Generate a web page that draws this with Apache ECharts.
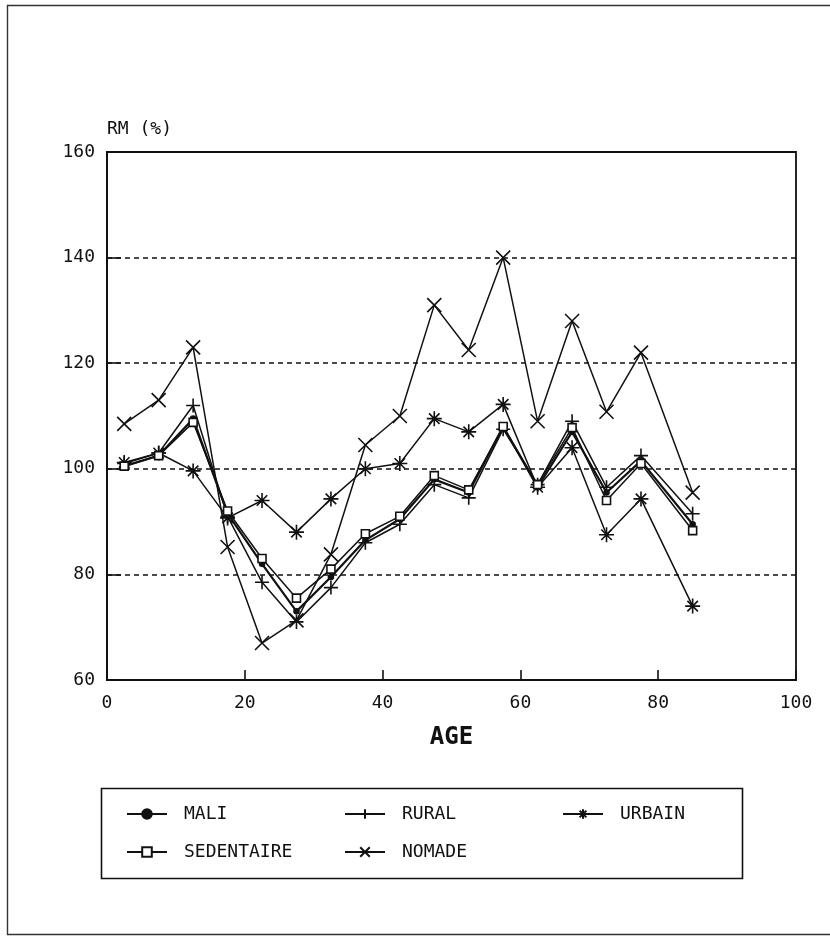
<!DOCTYPE html>
<html>
<head>
<meta charset="utf-8">
<script src="https://cdn.jsdelivr.net/npm/echarts@6/dist/echarts.min.js"></script>
<style>
  html, body { margin: 0; padding: 0; background: #fff; }
  #main { width: 830px; height: 936px; }
</style>
</head>
<body>
<div id="main"></div>
<script>
// age groups (centre of the 5-year classes, last one 85+)
var ages = [2.5, 7.5, 12.5, 17.5, 22.5, 27.5, 32.5, 37.5, 42.5, 47.5, 52.5, 57.5, 62.5, 67.5, 72.5, 77.5, 85];

// RM (%) per population group
var mali       = [100.5, 102.5, 109.5, 91.5, 82, 73, 79.5, 86.5, 90.5, 98, 95.5, 108, 96.5, 107, 95.5, 101.5, 89.5];
var rural      = [101, 103, 112, 91, 78.5, 71, 77.5, 86, 89.5, 97, 94.5, 107.5, 97, 109, 96.5, 102.5, 91.5];
var urbain     = [101.2, 103, 99.6, 90.7, 94, 88, 94.3, 100, 101, 109.5, 107, 112.2, 96.5, 104, 87.5, 94.3, 74];
var sedentaire = [100.5, 102.5, 108.8, 92, 83, 75.5, 81, 87.7, 91, 98.7, 96, 108, 97, 107.8, 94, 101, 88.3];
var nomade     = [108.5, 113, 123, 85.2, 67, 71.3, 83.8, 104.5, 110, 131, 122.5, 140, 109, 128, 110.8, 122, 95.5];

var names = ['MALI', 'RURAL', 'URBAIN', 'SEDENTAIRE', 'NOMADE'];

var FONT = '"DejaVu Sans Mono", monospace';
var INK = '#111';

// marqueurs dessinés au trait
var SYM_PLUS = 'path://M5,0L5,10M0,5L10,5';
var SYM_X = 'path://M0,0L10,10M10,0L0,10';
var SYM_STAR = 'path://M5,0L5,10M0,5L10,5M1.5,1.5L8.5,8.5M8.5,1.5L1.5,8.5';

function pairs(values) {
    var out = [];
    for (var i = 0; i < ages.length; i++) {
        out.push([ages[i], values[i]]);
    }
    return out;
}

function makeSeries(name, values, symbol, size, width, fill) {
    return {
        name: name,
        type: 'line',
        data: pairs(values),
        symbol: symbol,
        symbolSize: size,
        showAllSymbol: true,
        lineStyle: { color: INK, width: width },
        itemStyle: {
            color: fill,
            borderColor: INK,
            borderWidth: 1.6
        },
        emphasis: { disabled: true },
        z: 3
    };
}

var myChart = echarts.init(document.getElementById('main'));
var option = {
    backgroundColor: '#fff',
    animation: false,
    grid: {
        left: 107,
        right: 34,
        top: 152,
        bottom: 256,
        show: true,
        borderColor: INK,
        borderWidth: 1.8
    },
    xAxis: {
        type: 'value',
        min: 0,
        max: 100,
        interval: 20,
        name: 'AGE',
        nameLocation: 'middle',
        nameGap: 46,
        nameTextStyle: { fontFamily: FONT, fontSize: 24, fontWeight: 'bold', color: INK },
        axisLine: { lineStyle: { color: INK, width: 2 } },
        axisTick: { inside: true, length: 10, lineStyle: { color: INK, width: 1.6 } },
        axisLabel: { fontFamily: FONT, fontSize: 18, color: INK, margin: 14 },
        splitLine: { show: false }
    },
    yAxis: {
        type: 'value',
        min: 60,
        max: 160,
        interval: 20,
        name: 'RM (%)',
        nameLocation: 'end',
        nameGap: 14,
        nameTextStyle: { fontFamily: FONT, fontSize: 18, color: INK, align: 'left' },
        axisLine: { lineStyle: { color: INK, width: 2 } },
        axisTick: { inside: true, length: 14, lineStyle: { color: INK, width: 1.6 } },
        axisLabel: { fontFamily: FONT, fontSize: 18, color: INK, margin: 12, padding: [0, 0, 8, 0] },
        splitLine: { show: true, lineStyle: { color: INK, width: 1.6, type: [5, 4] } }
    },
    legend: {
        data: names,
        left: 126,
        top: 805,
        width: 700,
        orient: 'horizontal',
        itemWidth: 40,
        itemHeight: 12,
        itemGap: 20,
        padding: 0,
        textStyle: {
            fontFamily: FONT,
            fontSize: 18,
            color: INK,
            width: 140,
            lineHeight: 14,
            padding: [0, 0, 0, 12]
        },
        selectedMode: false
    },
    graphic: [
        {
            // cadre de la légende
            type: 'rect',
            left: 99,
            top: 786,
            shape: { width: 641, height: 90 },
            style: { fill: 'none', stroke: INK, lineWidth: 1.6 },
            silent: true
        },
        {
            // cadre de la figure
            type: 'rect',
            left: 5,
            top: 3,
            shape: { width: 824, height: 929 },
            style: { fill: 'none', stroke: '#333', lineWidth: 1.4 },
            silent: true
        }
    ],
    series: [
        makeSeries('MALI', mali, 'circle', 5, 2.2, INK),
        makeSeries('RURAL', rural, SYM_PLUS, 14, 1.5, 'none'),
        makeSeries('URBAIN', urbain, SYM_STAR, 15, 1.5, 'none'),
        makeSeries('SEDENTAIRE', sedentaire, 'rect', 8, 1.5, '#fff'),
        makeSeries('NOMADE', nomade, SYM_X, 14, 1.5, 'none')
    ]
};
myChart.setOption(option);
</script>
</body>
</html>
